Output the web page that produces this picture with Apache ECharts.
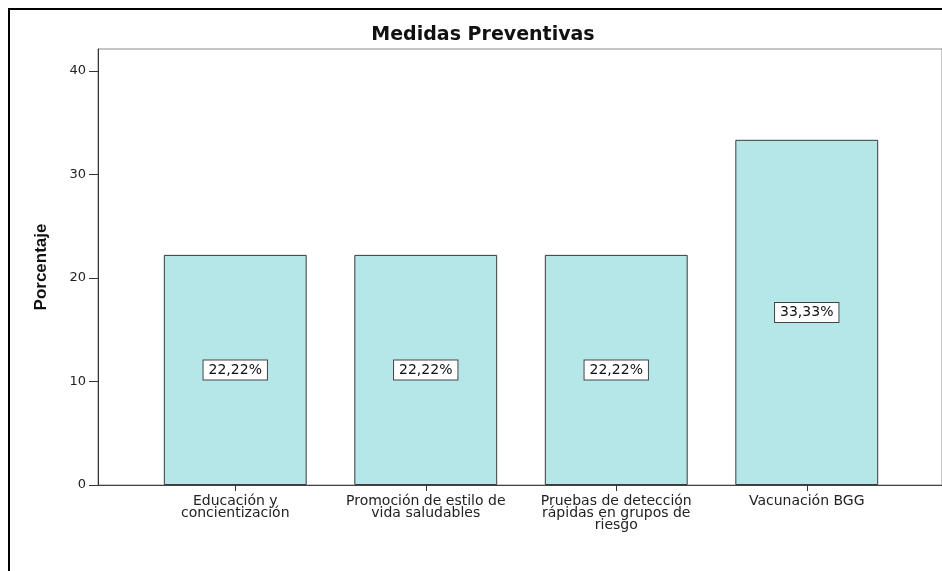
<!DOCTYPE html>
<html>
<head>
<meta charset="utf-8">
<script src="https://cdn.jsdelivr.net/npm/echarts@6/dist/echarts.min.js"></script>
<style>
  html, body { margin: 0; padding: 0; background: #fff; }
  #chart { position: absolute; left: 0; top: 0; width: 942px; height: 571px; }
  #frame { position: absolute; left: 8px; top: 8px; width: 2000px; height: 2000px;
           border-left: 2px solid #000; border-top: 2px solid #000; pointer-events: none; }
</style>
</head>
<body>
<div id="chart"></div>
<div id="frame"></div>
<script>
const title = 'Medidas Preventivas';
const yAxisName = 'Porcentaje';
const categories = ['Educación y concientización', 'Promoción de estilo de vida saludables', 'Pruebas de detección rápidas en grupos de riesgo', 'Vacunación BGG'];
const categoryLabels = ['Educación y\nconcientización', 'Promoción de estilo de\nvida saludables', 'Pruebas de detección\nrápidas en grupos de\nriesgo', 'Vacunación BGG'];
const percentages = [22.22, 22.22, 22.22, 33.33];
const valueLabels = ['22,22%', '22,22%', '22,22%', '33,33%'];
const yTickMax = 40;
const yTickInterval = 10;
const yFrameMax = 42.1;

const FONT = 'DejaVu Sans';
const chart = echarts.init(document.getElementById('chart'), null, { renderer: 'canvas' });

chart.setOption({
  animation: false,
  backgroundColor: 'transparent',
  title: {
    text: title,
    left: 483,
    top: 26,
    textAlign: 'center',
    padding: 0,
    textStyle: { fontFamily: FONT, fontWeight: 'bold', fontSize: 19, color: '#111' }
  },
  grid: [
    { left: 98, top: 49, right: -10, bottom: 86, show: true, borderColor: '#8c8c8c', borderWidth: 1, backgroundColor: 'transparent', containLabel: false },
    { left: 98, top: 71, right: -10, bottom: 86, containLabel: false },
    { left: 140, top: 49, right: 40, bottom: 86, containLabel: false }
  ],
  xAxis: [
    { gridIndex: 0, type: 'value', min: 0, max: 1,
      axisLine: { show: true, lineStyle: { color: '#444', width: 1 } },
      axisTick: { show: false }, axisLabel: { show: false }, splitLine: { show: false } },
    { gridIndex: 1, type: 'value', min: 0, max: 1, show: false },
    { gridIndex: 2, type: 'category', data: categories,
      axisLine: { show: false },
      axisTick: { show: true, alignWithLabel: true, length: 6, lineStyle: { color: '#333' } },
      axisLabel: {
        interval: 0, margin: 10,
        fontFamily: FONT, fontSize: 14, lineHeight: 12, color: '#222',
        formatter: function (v, i) { return categoryLabels[i]; }
      },
      splitLine: { show: false } }
  ],
  yAxis: [
    { gridIndex: 0, type: 'value', min: 0, max: yFrameMax,
      axisLine: { show: true, lineStyle: { color: '#333', width: 1 } },
      axisTick: { show: false }, axisLabel: { show: false }, splitLine: { show: false },
      name: yAxisName, nameLocation: 'middle', nameGap: 48, nameRotate: 90,
      nameTextStyle: { fontFamily: 'Liberation Sans', fontWeight: 'bold', fontSize: 17, color: '#111' } },
    { gridIndex: 1, type: 'value', min: 0, max: yTickMax, interval: yTickInterval,
      axisLine: { show: false },
      axisTick: { show: true, length: 9, lineStyle: { color: '#333' } },
      axisLabel: { margin: 12, fontFamily: FONT, fontSize: 13, color: '#222' },
      splitLine: { show: false } },
    { gridIndex: 2, type: 'value', min: 0, max: yFrameMax, show: false }
  ],
  series: [{
    type: 'bar',
    xAxisIndex: 2,
    yAxisIndex: 2,
    data: percentages,
    barWidth: '75%',
    itemStyle: { color: '#b5e6e8', borderColor: '#3a3a3a', borderWidth: 1 },
    label: {
      show: true,
      position: 'inside',
      formatter: function (p) { return valueLabels[p.dataIndex]; },
      fontFamily: FONT, fontSize: 14, color: '#111',
      backgroundColor: '#fff', borderColor: '#444', borderWidth: 1,
      padding: [3, 5, 2, 5]
    }
  }]
});
</script>
</body>
</html>
